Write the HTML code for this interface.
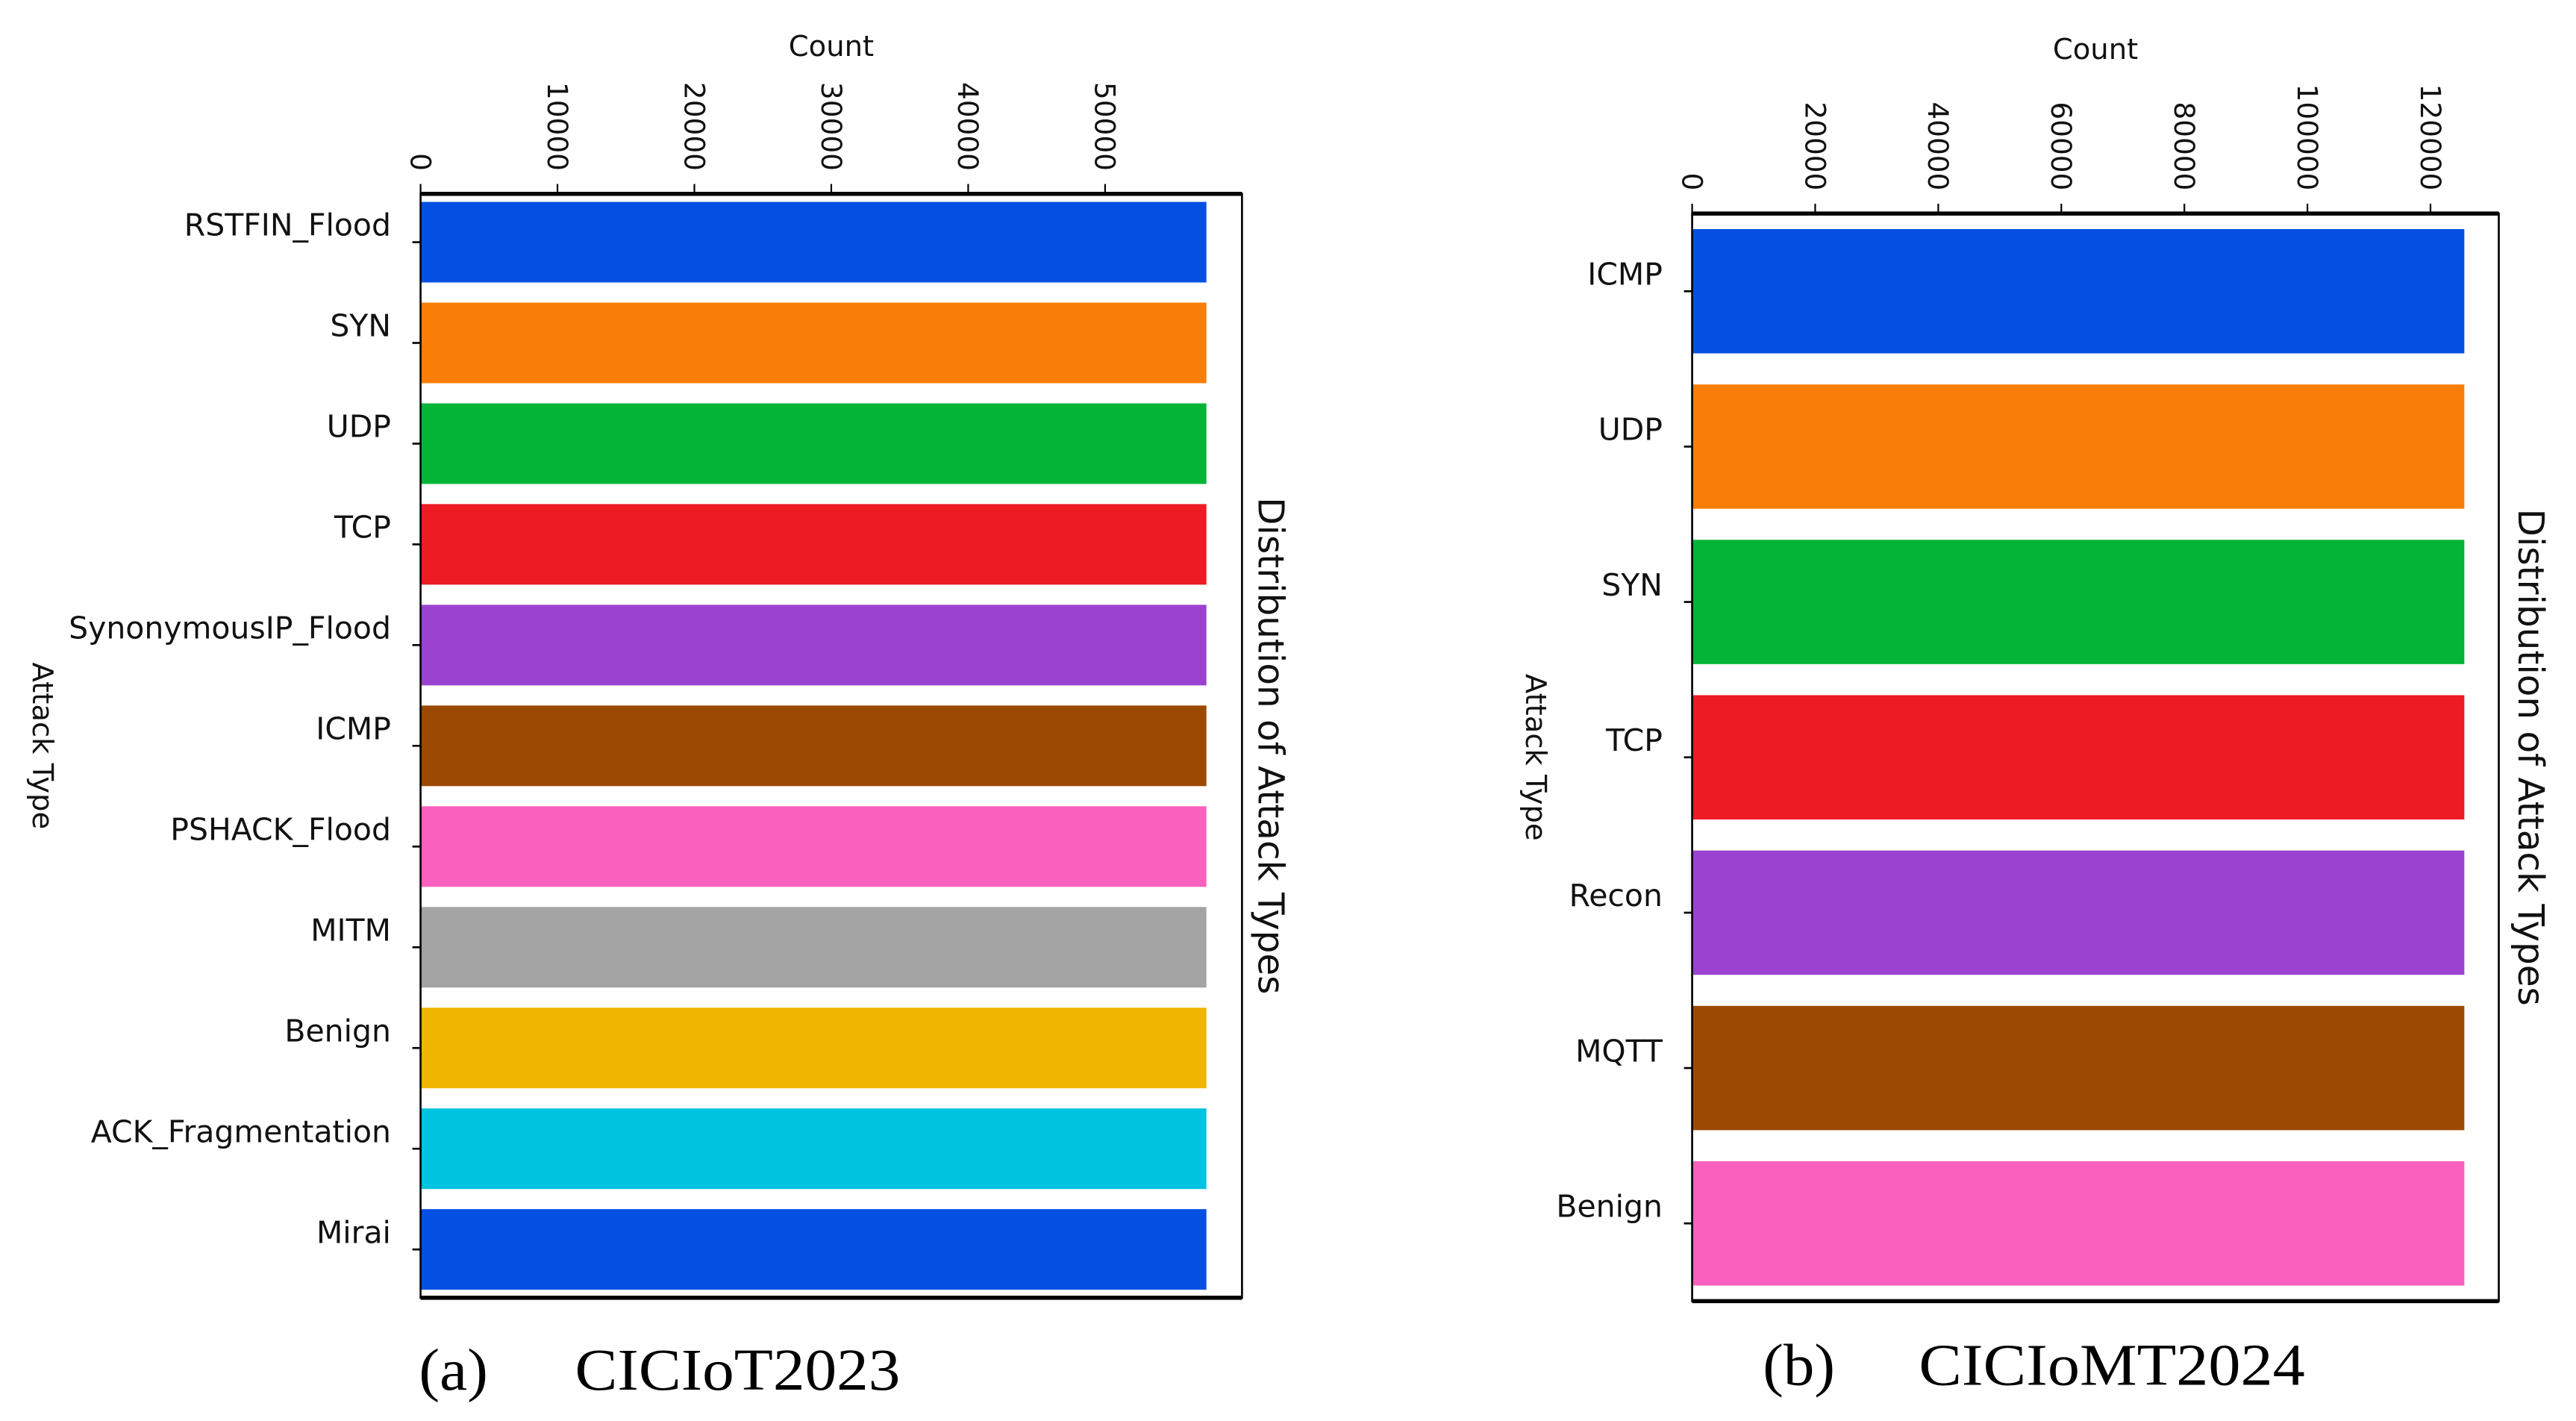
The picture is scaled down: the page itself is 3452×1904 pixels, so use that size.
<!DOCTYPE html>
<html><head><meta charset="utf-8"><style>
html,body{margin:0;padding:0;background:#fff;overflow:hidden}
svg{display:block}
text{font-family:"DejaVu Sans","Liberation Sans",sans-serif;fill:#111}
.cap{font-family:"Liberation Serif",serif;fill:#000}
</style></head><body>
<svg id="fig" width="3452" height="1904" viewBox="0 0 1568 865" preserveAspectRatio="none" xmlns="http://www.w3.org/2000/svg">
<g id="chartA"></g>
<g id="chartB"></g>
<text class="cap" x="255" y="846" font-size="36" textLength="42" lengthAdjust="spacingAndGlyphs">(a)</text>
<text class="cap" x="350" y="846" font-size="36" textLength="198" lengthAdjust="spacingAndGlyphs">CICIoT2023</text>
<text class="cap" x="1073" y="843" font-size="36" textLength="44" lengthAdjust="spacingAndGlyphs">(b)</text>
<text class="cap" x="1168" y="843" font-size="36" textLength="235" lengthAdjust="spacingAndGlyphs">CICIoMT2024</text>
</svg>
<script>
const catsA = ["RSTFIN_Flood","SYN","UDP","TCP","SynonymousIP_Flood","ICMP","PSHACK_Flood","MITM","Benign","ACK_Fragmentation","Mirai"];
const valsA = [57400,57400,57400,57400,57400,57400,57400,57400,57400,57400,57400];
const ticksA = [0,10000,20000,30000,40000,50000];
const catsB = ["ICMP","UDP","SYN","TCP","Recon","MQTT","Benign"];
const valsB = [125500,125500,125500,125500,125500,125500,125500];
const ticksB = [0,20000,40000,60000,80000,100000,120000];
const colors = ["#0350e3","#f97e07","#03b436","#ed1b23","#9b42d0","#9c4900","#fa60bd","#a4a4a4","#efb500","#00c3e0","#0350e3"];

const NS="http://www.w3.org/2000/svg";
function mk(parent,tag,attrs){const e=document.createElementNS(NS,tag);for(const k in attrs)e.setAttribute(k,attrs[k]);parent.appendChild(e);return e;}

function draw(g,cats,vals,ticks,cfg){
  const {x0,x1,y0,y1,xmax,pad,bh,labelX,ylabX,distX}=cfg;
  const n=cats.length;
  const xs=v=>x0+(v/xmax)*(x1-x0);
  const span=(n-1)+bh+2*pad;
  const ys=i=>y0+((pad+bh/2+i)/span)*(y1-y0);
  const unit=(y1-y0)/span;
  cats.forEach((c,i)=>{
    const r=mk(g,"rect",{x:xs(0),y:ys(i)-bh*unit/2,width:xs(vals[i])-xs(0),height:bh*unit,fill:colors[i%colors.length]});
    
    
    const tk=mk(g,"line",{x1:x0-5,x2:x0,y1:ys(i),y2:ys(i),stroke:"#000","stroke-width":1.2});
    
    
    const t=mk(g,"text",{x:labelX,y:ys(i)-4,"text-anchor":"end","font-size":18.6});
    t.textContent=c;
    
    
  });
  ticks.forEach(v=>{
    const x=xs(v);
    const tk=mk(g,"line",{x1:x,x2:x,y1:y0-6,y2:y0,stroke:"#000","stroke-width":1});
    
    
    const t=mk(g,"text",{x:0,y:0,"font-size":17,"text-anchor":"end",transform:`translate(${x-6},${y0-14}) rotate(90)`});
    t.textContent=String(v);
    
    
  });
  const fr=mk(g,"rect",{x:x0,y:y0,width:x1-x0,height:y1-y0,fill:"none",stroke:"#000","stroke-width":1.2});
  
  
  const tl=mk(g,"line",{x1:x0,x2:x1,y1:y0,y2:y0,stroke:"#000","stroke-width":2.5});
  
  
  const bl=mk(g,"line",{x1:x0,x2:x1,y1:y1,y2:y1,stroke:"#000","stroke-width":2.5});
  
  
  const ct=mk(g,"text",{x:(x0+x1)/2,y:cfg.countY,"text-anchor":"middle","font-size":17.5});
  ct.textContent="Count";
  
  
  const at=mk(g,"text",{x:0,y:0,"text-anchor":"middle","font-size":17.5,transform:`translate(${ylabX},${(y0+y1)/2}) rotate(90)`});
  at.textContent="Attack Type";
  
  
  const dt=mk(g,"text",{x:0,y:0,"text-anchor":"middle","font-size":22,transform:`translate(${distX},${(y0+y1)/2}) rotate(90)`});
  dt.textContent="Distribution of Attack Types";
  
  
}
draw(document.getElementById('chartA'),catsA,valsA,ticksA,{x0:256,x1:756,y0:118,y1:790,xmax:60000,pad:0.08,bh:0.8,labelX:238,ylabX:20,distX:766,countY:34});
draw(document.getElementById('chartB'),catsB,valsB,ticksB,{x0:1030,x1:1521,y0:130,y1:792,xmax:131100,pad:0.1,bh:0.8,labelX:1012,ylabX:929,distX:1533,countY:36});
</script>
</body></html>
